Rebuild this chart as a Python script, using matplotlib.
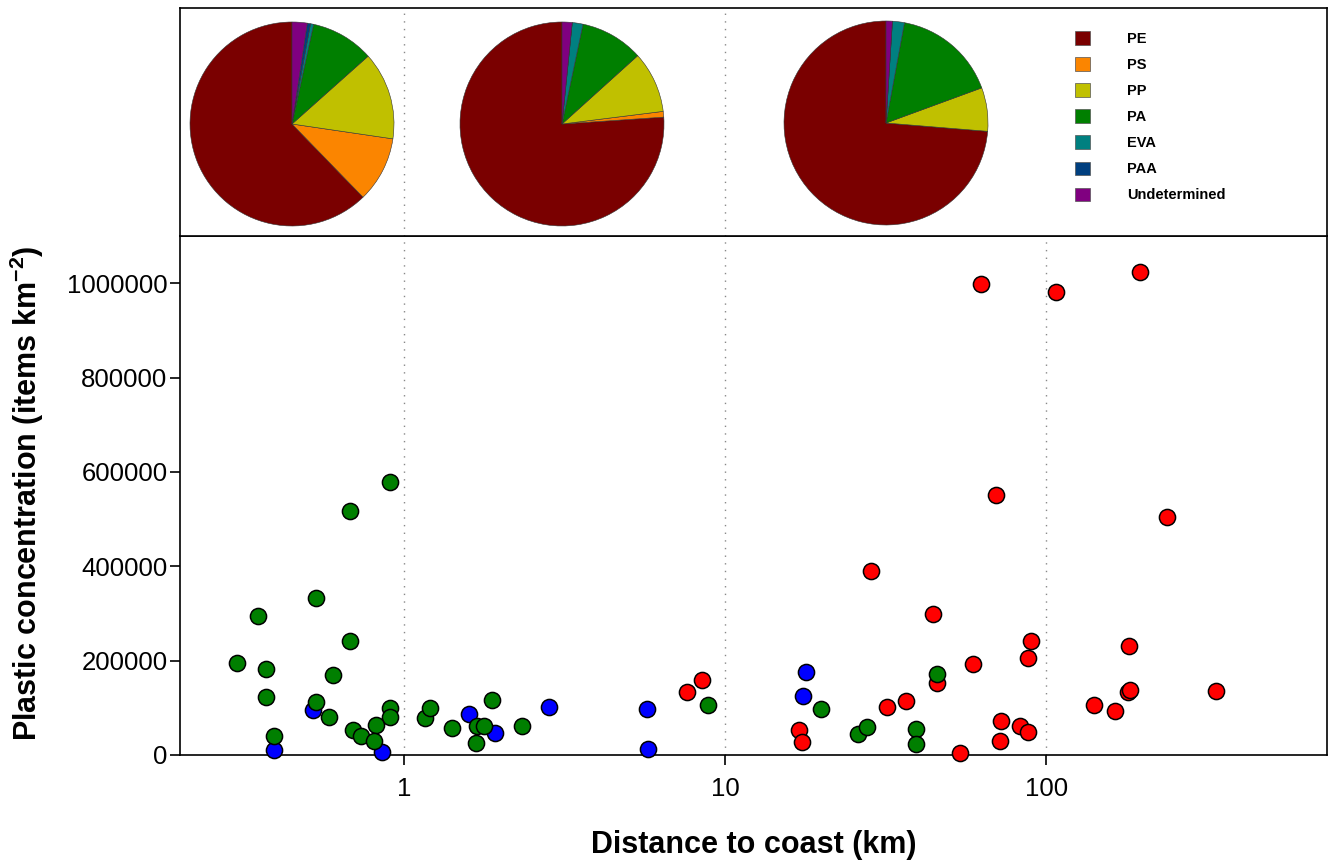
import numpy as np
import matplotlib
matplotlib.use('Agg')
import matplotlib.pyplot as plt
from matplotlib.patches import Patch

plt.rcParams['font.family'] = ['Liberation Sans', 'DejaVu Sans']
plt.rcParams['mathtext.fontset'] = 'custom'
plt.rcParams['mathtext.rm'] = 'Liberation Sans'
plt.rcParams['mathtext.bf'] = 'Liberation Sans:bold'

# polymer composition (%) for the three pies
polymers = ['PE', 'PS', 'PP', 'PA', 'EVA', 'PAA', 'Undetermined']
polymer_colors = ['#7a0000', '#fb8500', '#c0c000', '#007f00', '#008080', '#003f7f', '#800080']
pie_near = [62.2, 10.4, 13.9, 10.0, 0.5, 0.5, 2.4]
pie_mid = [76.0, 0.9, 9.7, 10.0, 1.7, 0.0, 1.6]
pie_far = [73.7, 0.0, 6.9, 16.5, 1.9, 0.0, 1.0]

# distance to coast (km) and concentration (items km-2)
green_x = [0.905, 0.675, 0.531, 0.351, 0.675, 0.302, 0.372, 0.601, 0.372, 0.531,
           0.583, 0.905, 0.905, 0.691, 0.814, 0.731, 0.803, 0.392, 1.162, 1.205,
           1.41, 1.683, 1.765, 1.675, 1.878, 2.323, 8.86, 19.9, 26.0, 27.6,
           39.2, 39.2, 45.8]
green_y = [579000, 517000, 332000, 295000, 241000, 196000, 181500, 170000, 123000, 111500,
           80500, 100000, 80000, 53500, 63000, 40000, 29500, 41000, 78000, 99500,
           56500, 61500, 61500, 25000, 116000, 61500, 106000, 97500, 44500, 58500,
           55500, 23500, 171000]

blue_x = [0.520, 0.392, 0.852, 1.596, 1.923, 2.832, 5.71, 5.74, 17.9, 17.46]
blue_y = [95500, 10500, 5500, 86000, 46000, 101000, 96500, 12000, 176000, 125500]

red_x = [7.61, 8.47, 16.93, 17.3, 28.5, 44.4, 90.0, 87.7, 59.2, 45.6,
         31.9, 36.6, 54.0, 72.1, 71.6, 82.8, 87.9, 141.3, 164.0, 181.3,
         180.0, 183.0, 337.0, 62.8, 107.5, 196.5, 69.8, 237.8]
red_y = [134000, 159500, 53000, 28500, 389000, 299000, 241500, 205500, 192000, 152000,
         102500, 115000, 3500, 72500, 29000, 61500, 48500, 105000, 93000, 231000,
         134000, 137500, 135000, 998000, 981000, 1023000, 551000, 504000]

W, H = 1333, 867
fig = plt.figure(figsize=(W / 100, H / 100), dpi=100)

ax = fig.add_axes([180 / W, 112 / H, 1147 / W, 519 / H])
ax_top = fig.add_axes([180 / W, 631 / H, 1147 / W, 228 / H])

xlim = (0.2, 750)
grid_kw = dict(color='#888888', lw=1.0, linestyle=(0, (1, 4.5)))

# scatter panel
ax.set_xscale('log')
ax.set_xlim(*xlim)
ax.set_ylim(0, 1100000)
for xv in [1, 10, 100]:
    ax.axvline(xv, zorder=0, **grid_kw)
for xs, ys, c in [(red_x, red_y, '#ff0000'), (blue_x, blue_y, '#0000ff'),
                  (green_x, green_y, '#007f00')]:
    ax.scatter(xs, ys, s=135, c=c, edgecolors='black', linewidths=1.1,
               zorder=3, clip_on=False)

ax.set_xticks([1, 10, 100])
ax.set_xticklabels(['1', '10', '100'])
ax.xaxis.set_minor_locator(matplotlib.ticker.NullLocator())
ax.set_yticks([0, 200000, 400000, 600000, 800000, 1000000])
ax.set_yticklabels(['0', '200000', '400000', '600000', '800000', '1000000'])
ax.tick_params(axis='both', direction='out', length=7, width=1.2, labelsize=18.5)
ax.tick_params(axis='x', pad=9)
ax.tick_params(axis='y', pad=2)
ax.tick_params(top=False, right=False)
for sp in ax.spines.values():
    sp.set_linewidth(1.2)

ax.set_xlabel('Distance to coast (km)', fontsize=22, fontweight='bold')
ax.xaxis.set_label_coords(0.5, -0.145)
ax.set_ylabel(r'Plastic concentration (items km$^{\mathbf{-2}}$)', fontsize=22, fontweight='bold')
ax.yaxis.set_label_coords(-0.117, 0.505)

# top panel with pies
ax_top.set_xscale('log')
ax_top.set_xlim(*xlim)
ax_top.set_ylim(0, 1)
ax_top.set_xticks([])
ax_top.set_yticks([])
ax_top.xaxis.set_minor_locator(matplotlib.ticker.NullLocator())
for xv in [1, 10]:
    ax_top.axvline(xv, zorder=0, **grid_kw)
for sp in ax_top.spines.values():
    sp.set_linewidth(1.2)

r = 102
for (cx, cy), vals in zip([(292, 124), (562, 124), (886, 123)], [pie_near, pie_mid, pie_far]):
    pax = fig.add_axes([(cx - r) / W, (H - cy - r) / H, 2 * r / W, 2 * r / H])
    pax.pie(vals, colors=polymer_colors, startangle=90, counterclock=True,
            wedgeprops=dict(edgecolor='#333333', linewidth=0.4))
    pax.set_xlim(-1.0, 1.0)
    pax.set_ylim(-1.0, 1.0)
    pax.set_aspect('auto')
    pax.patch.set_visible(False)

handles = [Patch(facecolor=c, edgecolor='#555555', linewidth=0.5) for c in polymer_colors]
fig.legend(handles, polymers, loc='upper left', bbox_to_anchor=(1075 / W, 1 - 31 / H),
           frameon=False, prop=dict(size=10.5, weight='bold'), handlelength=1.05,
           handleheight=1.05, handletextpad=2.5, labelspacing=0.78, borderpad=0,
           borderaxespad=0)

fig.savefig('out.png', dpi=100)
